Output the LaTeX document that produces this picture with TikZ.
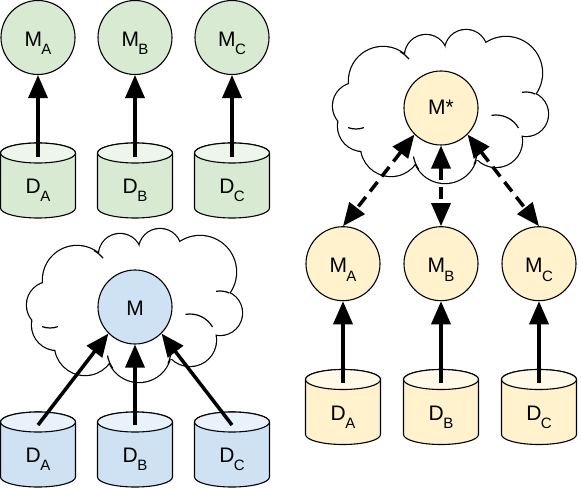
\documentclass[tikz,border=0pt]{standalone}
\usepackage{fontspec}
\setmainfont{Liberation Sans}
\usetikzlibrary{shapes.geometric,arrows.meta,calc}
\definecolor{gbody}{HTML}{D9EAD3}
\definecolor{bbody}{HTML}{CFE2F3}
\definecolor{ybody}{HTML}{FFF2CC}
\colorlet{gtop}{gbody!45!white}
\colorlet{btop}{bbody!45!white}
\colorlet{ytop}{ybody!45!white}
\newcommand\sublbl[2]{#1\kern-0.5pt\raisebox{-8.3pt}{\fontsize{15}{15}\selectfont #2}}
% cylinder drawn over an (empty) rectangle node: #1 node name, #2 body colour, #3 top colour
\newcommand\drumshape[3]{%
  \draw[line width=1.1pt, fill=#2] ([yshift=-10pt]#1.north west)
     -- ([yshift=10pt]#1.south west)
     arc[start angle=180, end angle=360, x radius=37.5pt, y radius=10pt]
     -- ([yshift=-10pt]#1.north east)
     arc[start angle=0, end angle=180, x radius=37.5pt, y radius=10pt] -- cycle;
  \draw[line width=1.1pt, fill=#3] ([yshift=-10pt]#1.north) ellipse[x radius=37.5pt, y radius=10pt];}
\begin{document}
\begin{tikzpicture}[x=1pt,y=1pt,
  model/.style={circle, draw=black, line width=1.1pt, minimum size=74pt, inner sep=0pt},
  store/.style={rectangle, minimum width=75pt, minimum height=75pt, inner sep=0pt, outer sep=0pt},
  lbl/.style={anchor=base, inner sep=0pt, font=\fontsize{21}{21}\selectfont},
  arr/.style={line width=3.5pt, -{Triangle[width=19pt,length=23pt]}},
  darr/.style={line width=3.5pt, dash pattern=on 12pt off 7pt,
    {Triangle[width=19pt,length=23pt]}-{Triangle[width=19pt,length=23pt]}},
  cloudpic/.pic={
    \foreach \cx/\cy/\cr in {-85/5/23, -58/30/34, -15/55/21, 25/60/21, 65/38/36,
        85/-3/22, 55/-30/26, 4/-40/32, -50/-35/30, -78/-15/25}
      {\draw[line width=2.4pt] (\cx,\cy) circle[radius=\cr pt];}
    \foreach \cx/\cy/\cr in {-85/5/23, -58/30/34, -15/55/21, 25/60/21, 65/38/36,
        85/-3/22, 55/-30/26, 4/-40/32, -50/-35/30, -78/-15/25}
      {\fill[white] (\cx,\cy) circle[radius=\cr pt];}
    \fill[white] (0,0) ellipse[x radius=80pt, y radius=55pt];
    \begin{scope}[line width=1.2pt]
      \draw (55,-30) ++(100:26pt) arc[start angle=100, end angle=30, radius=26pt];
      \draw (4,-40) ++(-25:32pt) arc[start angle=-25, end angle=10, radius=32pt];
      \draw (4,-40) ++(190:32pt) arc[start angle=190, end angle=215, radius=32pt];
      \draw (-58,30) ++(40:34pt) arc[start angle=40, end angle=60, radius=34pt];
      \draw (-85,5) ++(250:23pt) arc[start angle=250, end angle=290, radius=23pt];
      \draw (85,-3) ++(65:22pt) arc[start angle=65, end angle=100, radius=22pt];
    \end{scope}
  }
]
\useasboundingbox (0,0) rectangle (581,-489);

% clouds
\pic at (135,-310) {cloudpic};
\pic at (441,-111) {cloudpic};

% ---- green group (top left)
\node[model, fill=gbody] (MA1) at (38,-37.5) {};
\node[model, fill=gbody] (MB1) at (135,-37.5) {};
\node[model, fill=gbody] (MC1) at (232,-37.5) {};
\node[store] (DA1) at (38,-180.5) {};
\node[store] (DB1) at (135,-180.5) {};
\node[store] (DC1) at (232,-180.5) {};
\drumshape{DA1}{gbody}{gtop}
\drumshape{DB1}{gbody}{gtop}
\drumshape{DC1}{gbody}{gtop}
\node[lbl] (tMA1) at (38,-46.7) {\sublbl{M}{A}};
\node[lbl] (tMB1) at (135,-46.7) {\sublbl{M}{B}};
\node[lbl] (tMC1) at (232,-46.7) {\sublbl{M}{C}};
\node[lbl] (tDA1) at (38,-193.3) {\sublbl{D}{A}};
\node[lbl] (tDB1) at (135,-193.3) {\sublbl{D}{B}};
\node[lbl] (tDC1) at (232,-193.3) {\sublbl{D}{C}};
\draw[arr] ([yshift=-14pt]DA1.north) -- (MA1);
\draw[arr] ([yshift=-14pt]DB1.north) -- (MB1);
\draw[arr] ([yshift=-14pt]DC1.north) -- (MC1);

% ---- blue group (bottom left)
\node[model, fill=bbody] (M2) at (135,-307) {};
\node[lbl] (tM2) at (135,-315) {M};
\node[store] (DA2) at (38,-449.5) {};
\node[store] (DB2) at (135,-449.5) {};
\node[store] (DC2) at (232,-449.5) {};
\drumshape{DA2}{bbody}{btop}
\drumshape{DB2}{bbody}{btop}
\drumshape{DC2}{bbody}{btop}
\node[lbl] (tDA2) at (38,-462.5) {\sublbl{D}{A}};
\node[lbl] (tDB2) at (135,-462.5) {\sublbl{D}{B}};
\node[lbl] (tDC2) at (232,-462.5) {\sublbl{D}{C}};
\draw[arr] ([yshift=-13pt]DA2.north) -- (M2.225);
\draw[arr] ([yshift=-13pt]DB2.north) -- (M2.south);
\draw[arr] ([yshift=-13pt]DC2.north) -- (M2.315);

% ---- yellow group (right)
\node[model, fill=ybody] (MS3) at (441,-108) {};
\node[lbl] (tMS3) at (441,-115) {M*};
\node[model, fill=ybody] (MA3) at (343,-263.7) {};
\node[model, fill=ybody] (MB3) at (441,-263.7) {};
\node[model, fill=ybody] (MC3) at (539,-263.7) {};
\node[lbl] (tMA3) at (343,-272.7) {\sublbl{M}{A}};
\node[lbl] (tMB3) at (441,-272.7) {\sublbl{M}{B}};
\node[lbl] (tMC3) at (539,-272.7) {\sublbl{M}{C}};
\node[store] (DA3) at (343,-407) {};
\node[store] (DB3) at (441,-407) {};
\node[store] (DC3) at (539,-407) {};
\drumshape{DA3}{ybody}{ytop}
\drumshape{DB3}{ybody}{ytop}
\drumshape{DC3}{ybody}{ytop}
\node[lbl] (tDA3) at (343,-420.5) {\sublbl{D}{A}};
\node[lbl] (tDB3) at (441,-420.5) {\sublbl{D}{B}};
\node[lbl] (tDC3) at (539,-420.5) {\sublbl{D}{C}};
\draw[arr] ([yshift=-13pt]DA3.north) -- (MA3);
\draw[arr] ([yshift=-13pt]DB3.north) -- (MB3);
\draw[arr] ([yshift=-13pt]DC3.north) -- (MC3);
\draw[darr] (MS3.225) -- (MA3.north);
\draw[darr] (MS3.south) -- (MB3.north);
\draw[darr] (MS3.315) -- (MC3.north);
\end{tikzpicture}
\end{document}
